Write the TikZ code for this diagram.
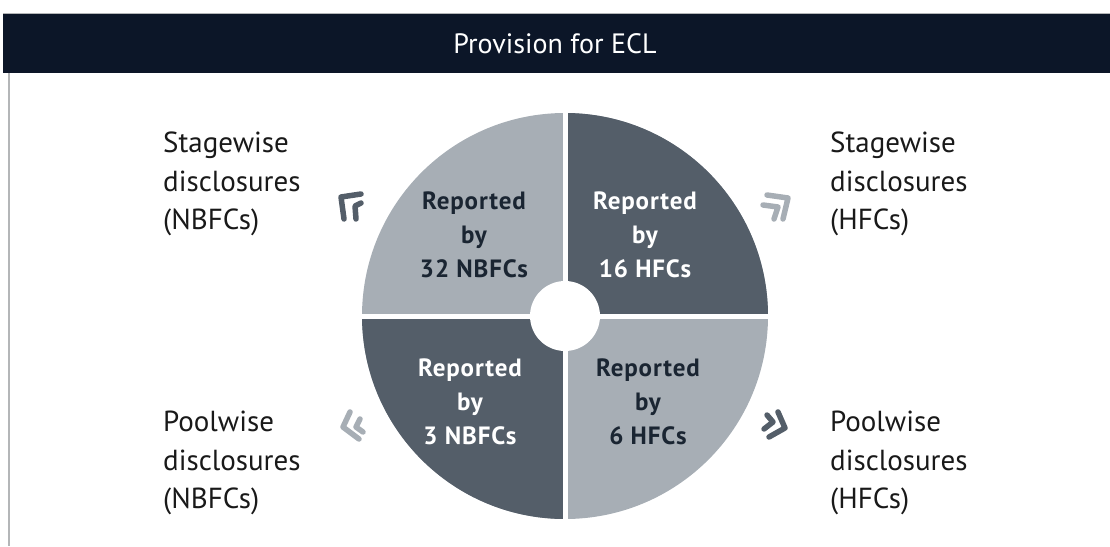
\documentclass[tikz,border=0pt]{standalone}
\usepackage{fontspec}
\setmainfont{PT Sans}
\definecolor{navy}{HTML}{0C1628}
\definecolor{qlight}{HTML}{A7AEB5}
\definecolor{qdark}{HTML}{545E69}
\definecolor{txtdark}{HTML}{1A2532}
\definecolor{bordergray}{HTML}{B4B6B8}
\tikzset{
  sidelabel/.style={anchor=west,align=left,font=\fontsize{29}{38.5}\selectfont,text=black!90,inner sep=0pt},
  qtext/.style={align=center,font=\fontsize{25}{34}\selectfont\bfseries\addfontfeatures{LetterSpace=3.5},inner sep=0pt},
  chev/.style={line width=5.5pt,line cap=round,line join=round},
}
\begin{document}
\begin{tikzpicture}[x=1pt,y=-1pt]
\useasboundingbox (0,0) rectangle (1110,546);
% header
\fill[navy] (3,13) rectangle (1110,73);
\draw[bordergray,line width=1pt] (3,13) -- (1110,13);
\node[text=white,font=\fontsize{28}{30}\selectfont] (title) at (555,44) {Provision for ECL};
\draw[bordergray,line width=2pt] (9,73) -- (9,546);
% wheel
\coordinate (c) at (565,316);
\fill[qlight] (c) circle[radius=203];
\fill[qdark] (c) -- (768,316) arc[start angle=0,end angle=-90,radius=203] -- cycle;
\fill[qdark] (c) -- (362,316) arc[start angle=180,end angle=90,radius=203] -- cycle;
\draw[white,line width=5pt] (565,110) -- (565,522);
\draw[white,line width=5pt] (359,316) -- (771,316);
\fill[white] (c) circle[radius=35];
% quadrant texts
\node[qtext,text=txtdark] (q1) at (474,235) {Reported\\by\\32 NBFCs};
\node[qtext,text=white] (q2) at (645,235) {Reported\\by\\16 HFCs};
\node[qtext,text=white] (q3) at (470,402) {Reported\\by\\3 NBFCs};
\node[qtext,text=txtdark] (q4) at (648,402) {Reported\\by\\6 HFCs};
% side labels
\node[sidelabel] (l1) at (163,184) {Stagewise\\disclosures\\(NBFCs)};
\node[sidelabel] (l2) at (830,184) {Stagewise\\disclosures\\(HFCs)};
\node[sidelabel] (l3) at (163,463) {Poolwise\\disclosures\\(NBFCs)};
\node[sidelabel] (l4) at (830,463) {Poolwise\\disclosures\\(HFCs)};
% icons
\draw[chev,qdark] (361,194) -- (341,197) -- (344,219);
\draw[chev,qdark] (361,203) -- (355,206) -- (356,219);
\draw[chev,qlight] (767,195) -- (788,198) -- (783,219);
\draw[chev,qlight] (763,205) -- (778,207) -- (774,219);
\draw[chev,qlight] (350,412) -- (343,427) -- (359,439);
\draw[chev,qlight] (360,419) -- (356,427) -- (363,432);
\draw[chev,qdark] (767,415) -- (773,422) -- (764,429);
\draw[chev,qdark] (778,412) -- (785,428) -- (769,437);
\end{tikzpicture}
\end{document}
